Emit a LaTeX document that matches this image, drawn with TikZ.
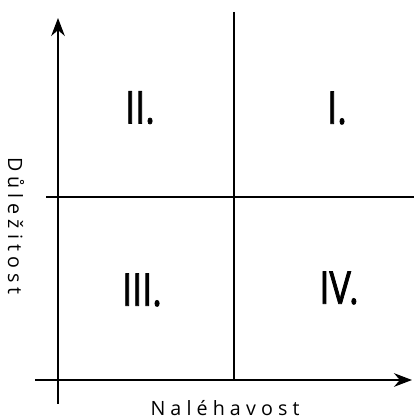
\documentclass[tikz,border=0pt]{standalone}
\usepackage{fontspec}
\setmainfont{Open Sans}
\usetikzlibrary{arrows.meta}
\newcommand{\numeral}[1]{\scalebox{0.8}[1]{#1}}
\tikzset{
	quadrant/.style = {font=\fontsize{32}{36}\selectfont\addfontfeature{FakeBold=2}, inner sep=0pt},
	axislabel/.style = {font=\fontsize{14}{16}\selectfont\addfontfeature{LetterSpace=26}, inner sep=0pt},
	axis/.style = {line width=1.4pt, -{Stealth[length=0.45cm, width=0.34cm]}},
	divider/.style = {line width=1.1pt}
}
\begin{document}
\begin{tikzpicture} [scale = 1]
	\useasboundingbox (0,0) rectangle (10.35,10.45);
	% axes
	\coordinate (ybot) at (1.45,0.35);
	\coordinate (ytop) at (1.45,10.0);
	\coordinate (xleft) at (0.875,0.95);
	\coordinate (xright) at (10.3,0.95);
	\draw [axis] (ybot) -- (ytop);
	\draw [axis] (xleft) -- (xright);
	% dividing lines
	\coordinate (vtop) at (5.85,10.15);
	\coordinate (vbot) at (5.85,0.95);
	\coordinate (hleft) at (1.15,5.525);
	\coordinate (hright) at (10.35,5.525);
	\draw [divider] (vtop) -- (vbot);
	\draw [divider] (hleft) -- (hright);
	% quadrants
	\node [quadrant] (q2) at (3.5,7.76) {\numeral{II.}};
	\node [quadrant] (q1) at (8.425,7.75) {\numeral{I.}};
	\node [quadrant] (q3) at (3.55,3.2) {\numeral{III.}};
	\node [quadrant] (q4) at (8.475,3.25) {\numeral{IV.}};
	% axis labels
	\node [axislabel] (urgency) at (5.625,0.26) {Naléhavost};
	\node [axislabel, rotate=-90] (importance) at (0.4,4.8) {Důležitost};
\end{tikzpicture}
\end{document}
